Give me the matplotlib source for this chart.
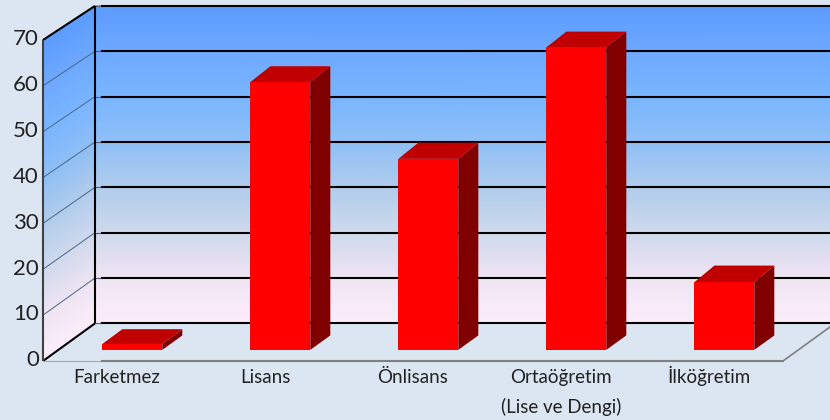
import numpy as np
import matplotlib
matplotlib.use('Agg')
import matplotlib.pyplot as plt
from matplotlib.colors import LinearSegmentedColormap
from matplotlib.patches import Polygon
from matplotlib.transforms import ScaledTranslation

categories = ['Farketmez', 'Lisans', 'Önlisans', 'Ortaöğretim\n(Lise ve Dengi)', 'İlköğretim']
values = [1.3, 58.6, 41.8, 66.2, 14.8]
y_ticks = [0, 10, 20, 30, 40, 50, 60, 70]

# wall gradient, value on the axis -> colour
wall_values = [0, 10, 20, 30, 40, 50, 60, 70]
wall_colors = ['#FDEDFA', '#EFE4F3', '#CFD9EC', '#B0CCEC', '#8FBFF6', '#7AB5FF', '#6EA9FF', '#5C9CFF']

W, H = 830, 420
bg = '#DCE6F2'

DX = 0.351   # depth of the box, in category units
DV = 8.2     # depth of the box, in axis units

def project(x, v, d=0.0):
    return x + d * DX, v * (1 - 0.011 * d) + d * DV

fig = plt.figure(figsize=(W / 100, H / 100), dpi=100, facecolor=bg)
ax = fig.add_axes([43 / W, (H - 361) / H, 740 / W, 321 / H])
ax.set_xlim(-0.5, 4.5)
ax.set_ylim(0, 70)
ax.patch.set_visible(False)
for s in ax.spines.values():
    s.set_visible(False)

cmap = LinearSegmentedColormap.from_list('wall', [(v / 70, c) for v, c in zip(wall_values, wall_colors)])
vv = np.repeat(np.linspace(0, 70, 71)[:, None], 2, axis=1)

# back wall
xb, yb = project(np.array([[-0.5, 4.5]]).repeat(71, axis=0), vv, 1)
ax.pcolormesh(xb, yb, vv, cmap=cmap, vmin=0, vmax=70,
              shading='gouraud', clip_on=False, zorder=1)

# left wall
dd = np.array([[0.0, 1.0]]).repeat(71, axis=0)
xl, yl = project(np.full(vv.shape, -0.5), vv, dd)
ax.pcolormesh(xl, yl, vv, cmap=cmap, vmin=0, vmax=70,
              shading='gouraud', clip_on=False, zorder=1)

def line3d(p0, p1, **kw):
    a = project(*p0)
    b = project(*p1)
    ax.plot([a[0], b[0]], [a[1], b[1]], clip_on=False, solid_capstyle='butt', **kw)

# grid on the walls
gap = 7 / 148
for v in y_ticks:
    x0, y0 = project(-0.5, v, 1)
    if v > 0:
        line3d((-0.5, v, 0), (-0.5, v, 1), color='#4A6688', lw=0.7, zorder=2)
    ax.plot([x0, x0 + gap], [y0, y0], color='#555F70', lw=0.8, clip_on=False, zorder=2)
    x1 = project(4.5, v, 1)[0]
    ax.plot([x0 + gap, x1], [y0, y0], color='black', lw=1.5, clip_on=False, zorder=2)

# box edges
line3d((-0.5, 70, 0), (-0.5, 70, 1), color='black', lw=1.5, zorder=3)
line3d((-0.5, 0, 0), (-0.5, 0, 1), color='black', lw=1.5, zorder=3)
line3d((-0.5, 0, 1), (-0.5, 70, 1), color='black', lw=1.5, zorder=3)
line3d((-0.5, 0, 0), (-0.5, 70, 0), color='#404040', lw=1.5, zorder=3)

# floor
ax.plot([-0.5, -0.5 + 59 / 148], [0, 0], color='#A6A6A6', lw=0.8, clip_on=False, zorder=3)
ax.plot([-0.5 + 59 / 148, 4.5], [0, 0], color='#808080', lw=1.5, clip_on=False, zorder=3)
line3d((4.5, 0, 0), (4.5, 0, 1), color='#808080', lw=1.2, zorder=3)

# bars
bar_w = 0.405
d0, d1 = 0.295, 0.68
for i, val in enumerate(values):
    l, r = i - bar_w / 2, i + bar_w / 2
    back_top = val + 0.55 * min(val / 10, 1)
    front = [project(l, 0, d0), project(r, 0, d0), project(r, val, d0), project(l, val, d0)]
    top = [project(l, val, d0), project(r, val, d0), project(r, back_top, d1), project(l, back_top, d1)]
    side = [project(r, 0, d0), project(r, 0, d1), project(r, back_top, d1), project(r, val, d0)]
    ax.add_patch(Polygon(side, facecolor='#800000', edgecolor='none', clip_on=False, zorder=4))
    ax.add_patch(Polygon(top, facecolor='#C00000', edgecolor='none', clip_on=False, zorder=4))
    ax.add_patch(Polygon(front, facecolor='#FF0000', edgecolor='none', clip_on=False, zorder=5))

ax.set_xticks(range(len(categories)))
ax.set_xticklabels([])
ax.set_yticks(y_ticks)
ax.set_yticklabels([str(v) for v in y_ticks], fontfamily='Lato', fontsize=16, color='#222222')
ax.tick_params(axis='x', length=0)
ax.tick_params(axis='y', length=0, pad=3)
shift = ScaledTranslation(0, 2 / 72, fig.dpi_scale_trans)
for lbl in ax.get_yticklabels():
    lbl.set_transform(lbl.get_transform() + shift)

# category labels, one text per line so the baselines stay level
for i, name in enumerate(categories):
    for j, part in enumerate(name.split('\n')):
        ax.annotate(part, xy=(i, 0), xytext=(0, -15.8 - j * 21.6), textcoords='offset points',
                    ha='center', va='baseline', fontfamily='Lato', fontsize=13.5,
                    color='#222222', annotation_clip=False)

fig.savefig('out.png', dpi=100, facecolor=bg)
